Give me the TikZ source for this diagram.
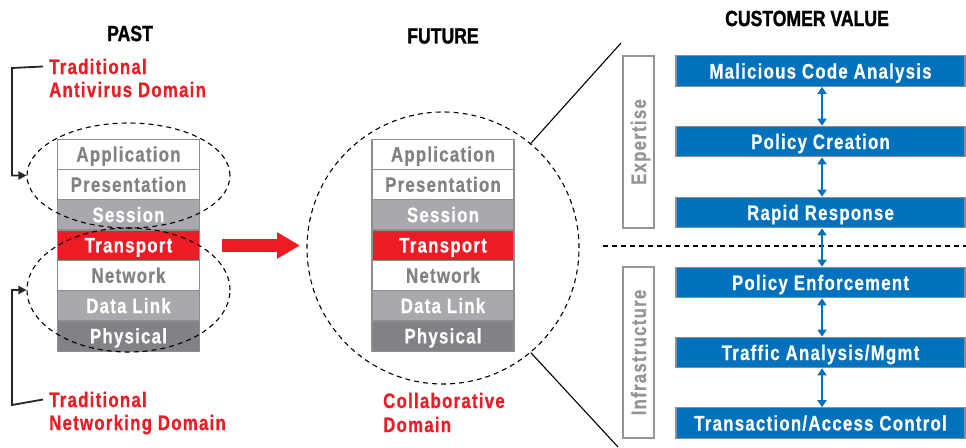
\documentclass[tikz,border=0pt]{standalone}
\usepackage{fontspec}
\usetikzlibrary{arrows.meta,shapes.geometric}
\newfontfamily\cf{Liberation Sans Bold}[FakeStretch=0.8,LetterSpace=6,FakeBold=0.6]
\newfontfamily\tf{Liberation Sans Bold}[FakeStretch=0.8,FakeBold=1.2]
\definecolor{cred}{HTML}{ED1C24}
\definecolor{cblue}{HTML}{0071BC}
\definecolor{lgray}{HTML}{A7A9AC}
\definecolor{dgray}{HTML}{808285}
\definecolor{tgray}{HTML}{939598}
\definecolor{bgray}{HTML}{8C8E90}
\tikzset{
  lbl/.style={font=\cf\fontsize{21}{24}\selectfont, inner sep=0pt},
  title/.style={font=\tf\fontsize{22}{26}\selectfont, text=black, inner sep=0pt},
  redlbl/.style={lbl, text=cred, anchor=base west},
  row/.style={lbl, draw=bgray, line width=1.2pt, minimum width=142pt, minimum height=30.3pt, text height=14.5pt, text depth=0pt},
  wrow/.style={row, fill=white, text=dgray},
  srow/.style={row, fill=lgray, text=white},
  trow/.style={row, fill=cred, text=white},
  prow/.style={row, fill=dgray, text=white},
  bluebox/.style={lbl, draw=bgray, line width=1.2pt, fill=cblue, text=white, minimum width=289pt, minimum height=30.5pt, text height=15pt, text depth=0pt},
  sidebox/.style={draw=tgray, line width=1.5pt, minimum width=31pt},
  sidetxt/.style={lbl, text=tgray, rotate=90, text height=15pt, text depth=0pt},
  dsh/.style={draw=black, line width=1.1pt, dash pattern=on 5pt off 4pt},
  brk/.style={draw=black!85, line width=1.8pt, -{Triangle[width=8pt,length=8pt]}},
  dbl/.style={draw=cblue, line width=2pt, {Triangle[width=9pt,length=7pt]}-{Triangle[width=9pt,length=7pt]}},
}
\begin{document}
\begin{tikzpicture}[x=1pt,y=-1pt]
\useasboundingbox (0,0) rectangle (966,447);
% titles
\node[title] (tpast) at (130,33.5) {PAST};
\node[title] (tfut) at (443,36) {FUTURE};
\node[title] (tcv) at (807,18.5) {CUSTOMER VALUE};
% left stack
\foreach \n/\t/\s [count=\i from 0] in {la/Application/wrow, lp/Presentation/wrow, ls/Session/srow, lt/Transport/trow, ln/Network/wrow, ld/Data Link/srow, lh/Physical/prow}
  \node[\s] (\n) at (128.5,{154.3+30.3*\i}) {\t};
% middle stack
\foreach \n/\t/\s [count=\i from 0] in {ma/Application/wrow, mp/Presentation/wrow, ms/Session/srow, mt/Transport/trow, mn/Network/wrow, md/Data Link/srow, mh/Physical/prow}
  \node[\s] (\n) at (443,{154.3+30.3*\i}) {\t};
% ellipses
\node[ellipse, dsh, minimum width=203pt, minimum height=105pt] (e1) at (128.5,175.5) {};
\node[ellipse, dsh, minimum width=203pt, minimum height=124pt] (e2) at (128.5,290) {};
\node[circle, dsh, minimum size=272pt] (fc) at (443,248) {};
% red labels
\node[redlbl] (rl1) at (49,74) {Traditional};
\node[redlbl] (rl1b) at (49,97) {Antivirus Domain};
\node[redlbl] (rl2) at (49,407) {Traditional};
\node[redlbl] (rl2b) at (49,430) {Networking Domain};
\node[redlbl] (rl3) at (383,408) {Collaborative};
\node[redlbl] (rl3b) at (383,432) {Domain};
% brackets
\draw[brk] ([xshift=-6pt]rl1.west) -- (12,68) |- (e1.west);
\draw[brk] ([xshift=-6pt]rl2.west) -- (12,405) |- (e2.west);
% red arrow
\coordinate (ra1) at (222,245.5);
\coordinate (ra2) at (300,245.5);
\draw[cred, line width=13pt, -{Triangle[width=25pt,length=23pt]}] (ra1) -- (ra2);
% zoom lines
\coordinate (z1) at (621,43);
\coordinate (z2) at (618,447);
\draw[black, line width=1.1pt] (fc.50) -- (z1);
\draw[black, line width=1.1pt] (fc.-50) -- (z2);
% side boxes
\node[sidebox, minimum height=172pt] (exb) at (638.5,142) {};
\node[sidetxt] (ext) at (exb.center) {Expertise};
\node[sidebox, minimum height=171pt] (inb) at (638.5,352.5) {};
\node[sidetxt] (int) at (inb.center) {Infrastructure};
% dashed separator
\coordinate (d1) at (603,246);
\coordinate (d2) at (966,246);
\draw[dsh] (d1) -- (d2);
% blue boxes
\node[bluebox] (b1) at (820.5,71) {Malicious Code Analysis};
\node[bluebox] (b2) at (820.5,141.5) {Policy Creation};
\node[bluebox] (b3) at (820.5,212.5) {Rapid Response};
\node[bluebox] (b4) at (820.5,282.5) {Policy Enforcement};
\node[bluebox] (b5) at (820.5,352.5) {Traffic Analysis/Mgmt};
\node[bluebox] (b6) at (820.5,423) {Transaction/Access Control};
\foreach \a/\b in {b1/b2,b2/b3,b3/b4,b4/b5,b5/b6}
  \draw[dbl] ([xshift=1.5pt]\a.south) -- ([xshift=1.5pt]\b.north);
\end{tikzpicture}
\end{document}
